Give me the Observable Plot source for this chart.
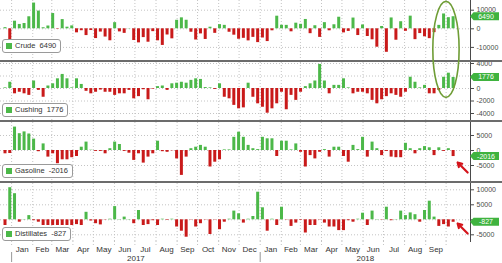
<!DOCTYPE html>
<html><head><meta charset="utf-8">
<script src="https://cdn.jsdelivr.net/npm/d3@7"></script>
<script src="https://cdn.jsdelivr.net/npm/@observablehq/plot@0.6"></script>
<style>
html,body{margin:0;padding:0;background:#fff;}
#chart{position:relative;width:502px;height:263px;overflow:hidden;font-family:"Liberation Sans",Arial,sans-serif;background:#fff;}
#chart > svg{position:absolute;left:0;}
.legend{position:absolute;left:2px;box-sizing:border-box;height:14px;border:1px solid #9a9a9a;border-radius:3px;background:#fff;font-size:7.5px;line-height:12px;color:#333;padding:0 4px 0 3px;white-space:nowrap;}
.legend i{display:inline-block;width:6px;height:6px;background:#4cb849;margin-right:3px;vertical-align:-0.5px;}
</style></head><body>
<div id="chart"></div>
<script>
// ---------- data (weekly changes, thousand barrels), first week ending 2016-12-23 ----------
const firstWeek = "2016-12-23";
const crude = [614,-7051,4097,2347,2840,6466,13830,9527,564,1501,8209,-237,4954,867,1566,-2166,-1034,-3641,-930,-5247,-1753,-4432,-6434,3295,-1661,-2451,118,-6298,-7564,-4727,-7208,-1527,-6451,-8945,-3327,-5392,4580,5888,4591,-1846,-6023,-2747,-5731,856,-2437,2237,1854,-1855,-3428,-5610,-5117,-6495,-4609,-7419,-4948,-6861,-1071,6776,1895,1843,-1616,3019,2408,5022,-2622,1643,-4617,3306,-1071,2170,6217,-2197,-1404,5778,-3620,2072,-4143,-5914,-9891,1245,-12633,5836,-6147,3803,-1351,6805,-5836,-2566,-4302,-5296,-2057,1852,7975,5987,6490];
const cushing = [100,1000,-850,-600,-850,-1100,1200,-300,-1400,400,750,1550,2250,1550,100,1550,650,-450,-850,-600,-250,-600,-600,-1100,-850,-850,-300,-1650,-1300,-200,-1800,-100,300,400,-300,750,850,1000,850,1300,1550,1450,150,100,-150,750,-1400,-1650,-2700,-3250,-3100,850,-1400,-2450,-3000,-3950,-3250,-2450,-600,-3400,-1100,-1900,-600,300,750,1200,3850,1200,-850,500,500,1550,100,-850,-600,-600,-850,-1900,-2450,-1800,-1300,-850,-1100,-1400,-600,1800,1000,100,500,-850,-850,-300,1800,2450,1776];
const gasoline = [-1100,-1000,7800,5600,6200,5500,3800,-400,2200,-2200,-1100,-4400,-3100,-3100,-2400,-2000,1100,2800,100,-300,-300,-1100,600,2800,2000,-300,-900,-3300,-1100,-4200,-2200,-1100,3100,-400,-600,-100,-2800,-8300,-2200,600,1100,1700,1100,-5500,-3900,-3100,200,200,4400,6100,4400,1700,600,300,4400,3900,3900,-2000,3100,3100,200,2200,-600,-5500,-1700,-2800,-600,300,-2200,1100,1100,-2000,-3900,1700,300,4400,-2200,2800,600,-1700,-300,-2200,-2400,-2400,2400,600,-1100,600,1300,900,-1700,900,-300,600,-2016];
const distillates = [-1900,10700,8700,-800,100,1400,-300,-800,-1900,-1900,-1900,-1900,-1900,-1900,-1900,-1600,-1900,2500,-400,-1300,-1700,-100,200,4400,100,900,100,-1300,3100,-1900,-1600,-300,-1900,200,-200,200,-2400,-3800,-5800,-100,-2400,-1300,-100,-4900,-100,-3300,-800,200,2900,2000,-1100,200,1100,9200,4000,-3800,200,-1900,4200,-100,-2200,-1100,-200,-4400,-1900,-1900,-100,-1100,-2400,-2400,-3600,-3600,-300,-800,200,2200,-1900,2900,100,-100,4200,-300,100,2900,1400,2300,1700,-800,3100,6200,900,-2200,-1600,-2400,-827];

const seriesNames = ["Crude","Cushing","Gasoline","Distillates"];
const monthLabels = ["Jan","Feb","Mar","Apr","May","Jun","Jul","Aug","Sep","Oct","Nov","Dec","Jan","Feb","Mar","Apr","May","Jun","Jul","Aug","Sep"];
const yearLabels = ["2017","2018"];
// grid levels and the tick labels left visible beside the last-value tags
const crudeGrid = [10000, 0, -10000];
const crudeTicks = [10000, 0, -10000];
const cushingGrid = [4000, 2000, 0, -2000, -4000];
const cushingTicks = [4000, 0, -2000, -4000];
const gasolineGrid = [5000, 0, -5000];
const gasolineTicks = [5000, 0, -5000];
const distillatesGrid = [10000, 5000, 0, -5000];
const distillatesTicks = [10000, 5000, -5000];

// ---------- styling / layout ----------
const GREEN = "#4cb849", RED = "#c91a1a", GRID = "#c4c4c4", TXT = "#4a4a4a";
const FONT = "Liberation Sans, Arial, sans-serif";
const W = 502, MR = 32;
const DAY = 864e5;
const t0 = new Date(firstWeek + "T00:00Z");
const weekDates = crude.map((_, i) => new Date(+t0 + i * 7 * DAY));
const xDomain = [new Date("2016-12-15T16:00Z"), new Date("2018-11-05T19:00Z")];
const monthStarts = d3.utcMonth.range(new Date("2017-01-01T00:00Z"), new Date("2018-10-15T00:00Z"));
const labelMonths = d3.utcMonth.range(new Date("2017-01-01T00:00Z"), new Date("2018-10-01T00:00Z"));
const monthMid = labelMonths.map(m => new Date((+m + +d3.utcMonth.offset(m, 1)) / 2));
const yearStarts = [new Date("2017-01-01T00:00Z"), new Date("2018-01-01T00:00Z")];
const yearMid = [new Date((+yearStarts[0] + +yearStarts[1]) / 2), new Date((+yearStarts[1] + +xDomain[1]) / 2)];

const panels = [
  {name: seriesNames[0], values: crude, grid: crudeGrid, ticks: crudeTicks, top: 0, h: 60, domain: [-17043, 15215], legendTop: 39},
  {name: seriesNames[1], values: cushing, grid: cushingGrid, ticks: cushingTicks, top: 62, h: 58, domain: [-5120, 4160], legendTop: 103},
  {name: seriesNames[2], values: gasoline, grid: gasolineGrid, ticks: gasolineTicks, top: 122, h: 59, domain: [-10333, 9333], legendTop: 164},
  {name: seriesNames[3], values: distillates, grid: distillatesGrid, ticks: distillatesTicks, top: 183, h: 58, domain: [-7233, 12100], legendTop: 227}
];

const chart = document.getElementById("chart");
const plots = [];

panels.forEach((p, k) => {
  const data = p.values.map((v, i) => ({date: weekDates[i], value: v}));
  const last = data[data.length - 1];
  const marks = [
    Plot.ruleX(monthStarts, {stroke: GRID, strokeDasharray: "1,2"}),
    Plot.ruleY(p.grid, {stroke: GRID, strokeDasharray: "1,2"}),
    Plot.rectY(data.filter(d => d.value >= 0), {x1: d => new Date(+d.date - 2.2 * DAY), x2: d => new Date(+d.date + 2.2 * DAY), y1: 0, y2: "value", fill: GREEN}),
    Plot.rectY(data.filter(d => d.value < 0), {x1: d => new Date(+d.date - 2.2 * DAY), x2: d => new Date(+d.date + 2.2 * DAY), y1: 0, y2: "value", fill: RED}),
    Plot.tickY(p.grid, {x1: xDomain[1], x2: xDomain[1], stroke: "none"})
  ];
  if (k >= 2) {
    const tip = k === 2 ? -4000 : -1233;
    marks.push(Plot.arrow([last], {
      x1: d => new Date(+d.date + 20.6 * DAY), y1: tip - 3333,
      x2: d => new Date(+d.date + 5.9 * DAY), y2: tip,
      stroke: "#d4141b", strokeWidth: 2.2, headLength: 6
    }));
  }
  const svg = Plot.plot({
    width: W, height: p.h,
    marginLeft: 0, marginRight: MR, marginTop: 0, marginBottom: 0,
    x: {type: "utc", domain: xDomain, axis: null},
    y: {domain: p.domain, axis: "right", ticks: p.grid, tickSize: 3, tickPadding: 3,
        tickFormat: d => (p.ticks.includes(d) ? `${d}` : ""), label: null, line: true},
    style: {background: "transparent", fontFamily: FONT, fontSize: "7px", color: TXT, overflow: "visible"},
    marks
  });
  svg.style.top = p.top + "px";
  chart.appendChild(svg);
  plots.push({svg, p, last});
});

// bottom time axis
const axisPlot = Plot.plot({
  width: W, height: 22,
  marginLeft: 0, marginRight: MR, marginTop: 0, marginBottom: 0,
  x: {type: "utc", domain: xDomain, axis: null},
  y: {domain: [0, 22], range: [0, 22], axis: null},
  style: {background: "transparent", fontFamily: FONT, fontSize: "8px", color: "#333"},
  marks: [
    Plot.ruleX(monthStarts, {y1: 0, y2: 4, stroke: GRID, strokeDasharray: "1,2"}),
    Plot.text(monthMid, {x: d => d, y: 8, text: (d, i) => monthLabels[i], fill: "#333"}),
    Plot.ruleX(yearStarts, {y1: 11, y2: 21, stroke: "#999"}),
    Plot.text(yearMid, {x: d => d, y: 17, text: (d, i) => yearLabels[i], fill: "#333"})
  ]
});
axisPlot.style.top = "241px";
chart.appendChild(axisPlot);

// overlay: separators, value tags, highlight ellipse
const ov = d3.select(chart).append("svg").attr("width", W).attr("height", 263)
  .style("position", "absolute").style("left", "0px").style("top", "0px");
panels.slice(0, 3).forEach(p => {
  ov.append("rect").attr("x", 0).attr("y", p.top + p.h).attr("width", W).attr("height", 2).attr("fill", "#6c6c6c");
});
plots.forEach(({svg, p, last}) => {
  const ys = svg.scale("y");
  const cy = p.top + ys.apply(last.value);
  const x0 = W - MR;
  ov.append("polygon")
    .attr("points", `${x0},${cy} ${x0 + 3.5},${cy - 4} ${W - 3},${cy - 4} ${W - 3},${cy + 4} ${x0 + 3.5},${cy + 4}`)
    .attr("fill", "#3fb33f");
  ov.append("text").attr("x", x0 + 16).attr("y", cy + 2.5).attr("text-anchor", "middle")
    .attr("font-family", FONT).attr("font-size", 7).attr("fill", "#fff").text(`${last.value}`);
  const lg = document.createElement("div");
  lg.className = "legend";
  lg.style.top = p.legendTop + "px";
  lg.innerHTML = `<i></i>${p.name}&nbsp;&nbsp;${last.value}`;
  chart.appendChild(lg);
});
{
  const xs = plots[0].svg.scale("x");
  const xa = xs.apply(weekDates[91]), xb = xs.apply(weekDates[94]);
  const yTop = panels[0].top + plots[0].svg.scale("y").apply(14500);
  const yBot = panels[1].top + plots[1].svg.scale("y").apply(-1500);
  ov.append("ellipse").attr("cx", (xa + xb) / 2).attr("cy", (yTop + yBot) / 2)
    .attr("rx", (xb - xa) / 2 + 6).attr("ry", (yBot - yTop) / 2)
    .attr("fill", "none").attr("stroke", "#6f9d36").attr("stroke-width", 1.6);
}
</script></body></html>
